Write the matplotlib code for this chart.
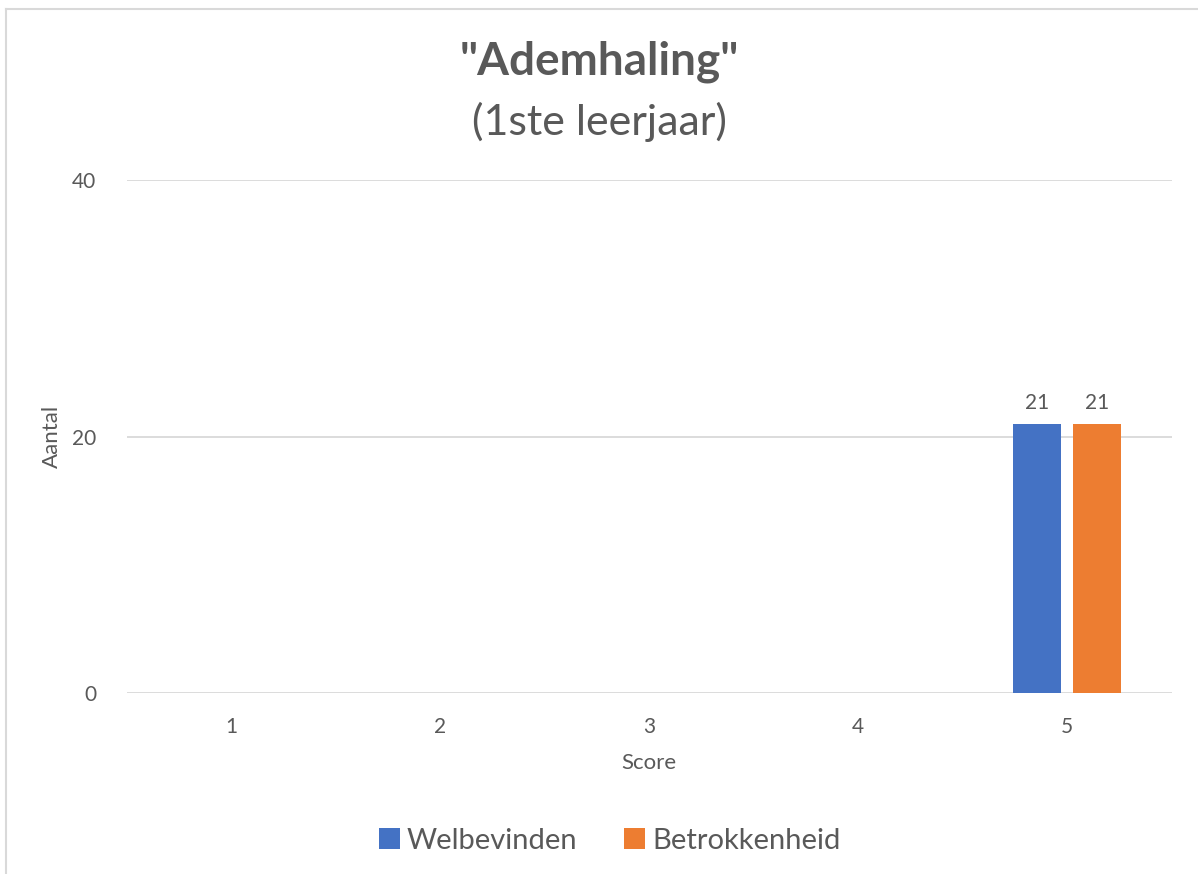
import matplotlib.pyplot as plt
import numpy as np
from matplotlib.lines import Line2D

plt.rcParams['font.family'] = ['Lato', 'DejaVu Sans']

scores = ['1', '2', '3', '4', '5']
welbevinden = [0, 0, 0, 0, 21]
betrokkenheid = [0, 0, 0, 0, 21]
y_ticks = [0, 20, 40]

txt = '#595959'
blue = '#4472C4'
orange = '#ED7D31'

fig = plt.figure(figsize=(11.98, 8.74), dpi=100)
ax = fig.add_axes([0.106, 0.2071, 0.872, 0.5869])

x = np.arange(len(scores))
w = 0.23
off = 0.144
b1 = ax.bar(x - off, welbevinden, w, color=blue, label='Welbevinden')
b2 = ax.bar(x + off, betrokkenheid, w, color=orange, label='Betrokkenheid')

for bars, vals in ((b1, welbevinden), (b2, betrokkenheid)):
    for r, v in zip(bars, vals):
        if v:
            ax.annotate(str(v), (r.get_x() + r.get_width() / 2, v),
                        xytext=(0, 8), textcoords='offset points',
                        ha='center', va='bottom', fontsize=15, color=txt)

ax.set_xlim(-0.5, len(scores) - 0.5)
ax.set_ylim(0, 40)
ax.set_xticks(x)
ax.set_xticklabels(scores)
ax.set_yticks(y_ticks)
ax.tick_params(length=0, labelsize=15, colors=txt)
ax.tick_params(axis='x', pad=17)
ax.tick_params(axis='y', pad=22)
ax.grid(axis='y', color='#D9D9D9', linewidth=1.3)
ax.set_axisbelow(True)
for s in ax.spines.values():
    s.set_visible(False)

ax.set_xlabel('Score', fontsize=16, color=txt, labelpad=12)
ax.set_ylabel('Aantal', fontsize=16, color=txt)
ax.yaxis.set_label_coords(-0.062, 0.5)

fig.text(0.5, 0.929, '"Ademhaling"', ha='center', va='center',
         fontsize=33, fontweight='bold', color=txt)
fig.text(0.5, 0.86, '(1ste leerjaar)', ha='center', va='center',
         fontsize=31, color=txt)

fig.legend(handles=[b1, b2], loc='center', bbox_to_anchor=(0.509, 0.038),
           ncol=2, frameon=False, fontsize=21, labelcolor=txt,
           handlelength=0.7, handleheight=0.7, handletextpad=0.25,
           columnspacing=1.6)

# chart border (top and left visible)
fig.add_artist(Line2D([6 / 1198, 1], [1 - 9 / 874, 1 - 9 / 874],
                      color='#D9D9D9', linewidth=1.5))
fig.add_artist(Line2D([6 / 1198, 6 / 1198], [0, 1 - 9 / 874],
                      color='#D9D9D9', linewidth=1.5))

fig.savefig('out.png', dpi=100)
